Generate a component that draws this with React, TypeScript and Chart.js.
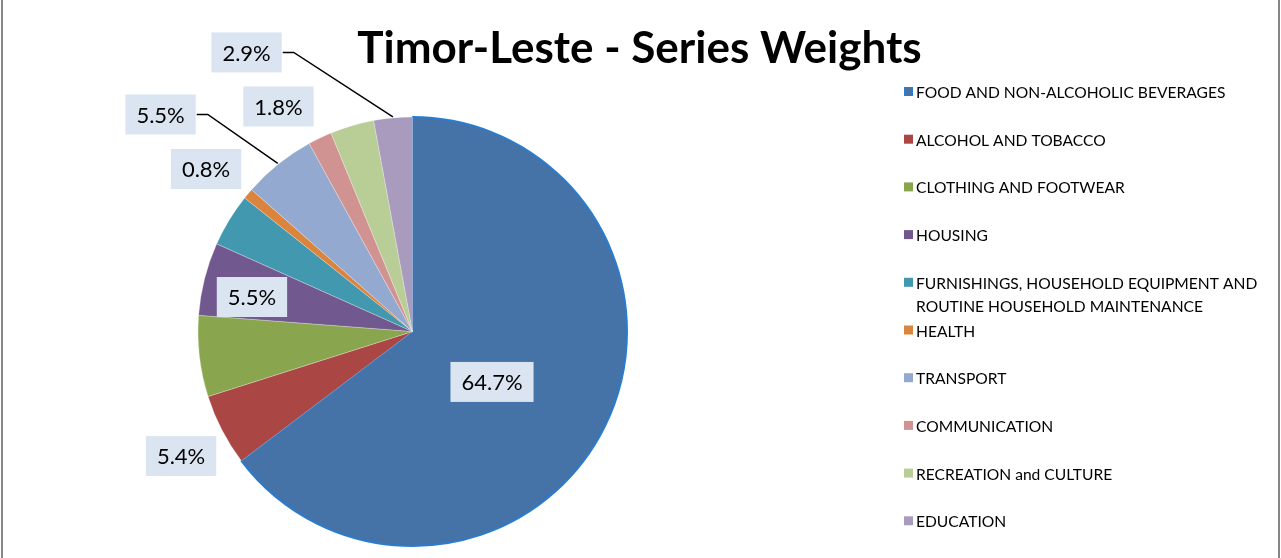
import React, { useEffect, useRef } from "react";
import { Chart, registerables } from "chart.js";

Chart.register(...registerables);

const chartTitle = "Timor-Leste - Series Weights";

const categories = [
  "FOOD AND NON-ALCOHOLIC BEVERAGES",
  "ALCOHOL AND TOBACCO",
  "CLOTHING AND FOOTWEAR",
  "HOUSING",
  "FURNISHINGS, HOUSEHOLD EQUIPMENT AND ROUTINE HOUSEHOLD MAINTENANCE",
  "HEALTH",
  "TRANSPORT",
  "COMMUNICATION",
  "RECREATION and CULTURE",
  "EDUCATION",
];

const weights = [64.7, 5.4, 6.1, 5.5, 4.0, 0.8, 5.5, 1.8, 3.3, 2.9];

const showValueLabel = [true, true, false, true, false, true, true, true, false, true];

const sliceColors = [
  "#4572A7",
  "#AA4643",
  "#89A54E",
  "#71588F",
  "#4198AF",
  "#DB843D",
  "#93A9CF",
  "#D19392",
  "#B9CD96",
  "#A99BBD",
];

// label placement relative to pie centre, in units of the radius
const labelOffsets: [number, number][] = [
  [0.369, 0.234],
  [-1.074, 0.578],
  [0, 0],
  [-0.745, -0.16],
  [0, 0],
  [-0.958, -0.754],
  [-1.169, -1.007],
  [-0.622, -1.044],
  [0, 0],
  [-0.77, -1.295],
];
const hasLeader = [false, false, false, false, false, false, true, false, false, true];

const FONT = "Lato, 'Open Sans', sans-serif";

const decorPlugin = {
  id: "decor",
  beforeDraw(chart: any) {
    const ctx = chart.ctx;
    ctx.save();
    ctx.fillStyle = "#ffffff";
    ctx.fillRect(0, 0, chart.width, chart.height);
    ctx.fillStyle = "#868686";
    ctx.fillRect(1, 0, 2, chart.height);
    ctx.fillRect(chart.width - 3, 0, 2, chart.height);
    ctx.restore();
  },
  afterDraw(chart: any) {
    const ctx = chart.ctx;
    ctx.save();
    // title
    ctx.fillStyle = "#000";
    ctx.font = `bold 44px ${FONT}`;
    ctx.textAlign = "center";
    ctx.textBaseline = "alphabetic";
    ctx.fillText(chartTitle, chart.width / 2 - 1, 63);

    // value labels
    const meta = chart.getDatasetMeta(0);
    const data = chart.data.datasets[0].data as number[];
    ctx.font = `22px ${FONT}`;
    meta.data.forEach((arc: any, i: number) => {
      if (!showValueLabel[i]) return;
      const p = arc.getProps(["x", "y", "startAngle", "endAngle", "outerRadius"], true);
      const R = p.outerRadius + 1;
      const lx = p.x + labelOffsets[i][0] * R;
      const ly = p.y + labelOffsets[i][1] * R;
      const txt = data[i].toFixed(1) + "%";
      const tw = ctx.measureText(txt).width;
      const bw = tw + 22;
      const bh = 40;
      if (hasLeader[i]) {
        const mid = (p.startAngle + p.endAngle) / 2;
        const ex = p.x + R * Math.cos(mid);
        const ey = p.y + R * Math.sin(mid);
        ctx.strokeStyle = "#000";
        ctx.lineWidth = 1.5;
        ctx.beginPath();
        ctx.moveTo(lx + bw / 2 + 1, ly);
        ctx.lineTo(lx + bw / 2 + 12, ly);
        ctx.lineTo(ex, ey);
        ctx.stroke();
      }
      ctx.fillStyle = "#DBE5F1";
      ctx.fillRect(lx - bw / 2, ly - bh / 2, bw, bh);
      ctx.fillStyle = "#000";
      ctx.textAlign = "center";
      ctx.textBaseline = "middle";
      ctx.fillText(txt, lx, ly + 1);
    });

    // legend
    const lx0 = 904;
    const tx0 = 916;
    const y0 = 92;
    const step = 47.7;
    const lineH = 23;
    ctx.font = `15.6px ${FONT}`;
    ctx.textAlign = "left";
    ctx.textBaseline = "middle";
    const maxW = chart.width - tx0 - 8;
    (chart.data.labels as string[]).forEach((label: string, i: number) => {
      const y = y0 + i * step;
      ctx.fillStyle = sliceColors[i];
      ctx.fillRect(lx0, y - 5, 9, 9);
      if (i === 0) {
        ctx.strokeStyle = "#2A7CCF";
        ctx.lineWidth = 1;
        ctx.strokeRect(lx0 + 0.5, y - 4.5, 8, 8);
      }
      // wrap
      const words = label.split(" ");
      const lines: string[] = [];
      let cur = "";
      words.forEach((w) => {
        const test = cur ? cur + " " + w : w;
        if (ctx.measureText(test).width > maxW && cur) {
          lines.push(cur);
          cur = w;
        } else cur = test;
      });
      if (cur) lines.push(cur);
      ctx.fillStyle = "#000";
      lines.forEach((ln, k) => ctx.fillText(ln, tx0, y + k * lineH + 1));
    });
    ctx.restore();
  },
};

export default function App() {
  const ref = useRef<HTMLCanvasElement | null>(null);
  useEffect(() => {
    if (!ref.current) return;
    const chart = new Chart(ref.current, {
      type: "pie",
      data: {
        labels: categories,
        datasets: [
          {
            data: weights,
            backgroundColor: sliceColors,
            borderColor: sliceColors.map((c, i) => (i === 0 ? "#2A7CCF" : "rgba(255,255,255,0.45)")),
            borderWidth: sliceColors.map((c, i) => (i === 0 ? 2 : 0.6)),
          },
        ],
      },
      options: {
        animation: false,
        responsive: true,
        maintainAspectRatio: false,
        layout: { padding: { left: 197, right: 653, top: 116, bottom: 11 } },
        plugins: {
          legend: { display: false },
          title: { display: false },
          tooltip: { enabled: false },
        },
      },
      plugins: [decorPlugin],
    });
    return () => chart.destroy();
  }, []);
  return (
    <div style={{ position: "fixed", left: 0, top: 0, width: 1281, height: 558, background: "#fff" }}>
      <canvas ref={ref} />
    </div>
  );
}
